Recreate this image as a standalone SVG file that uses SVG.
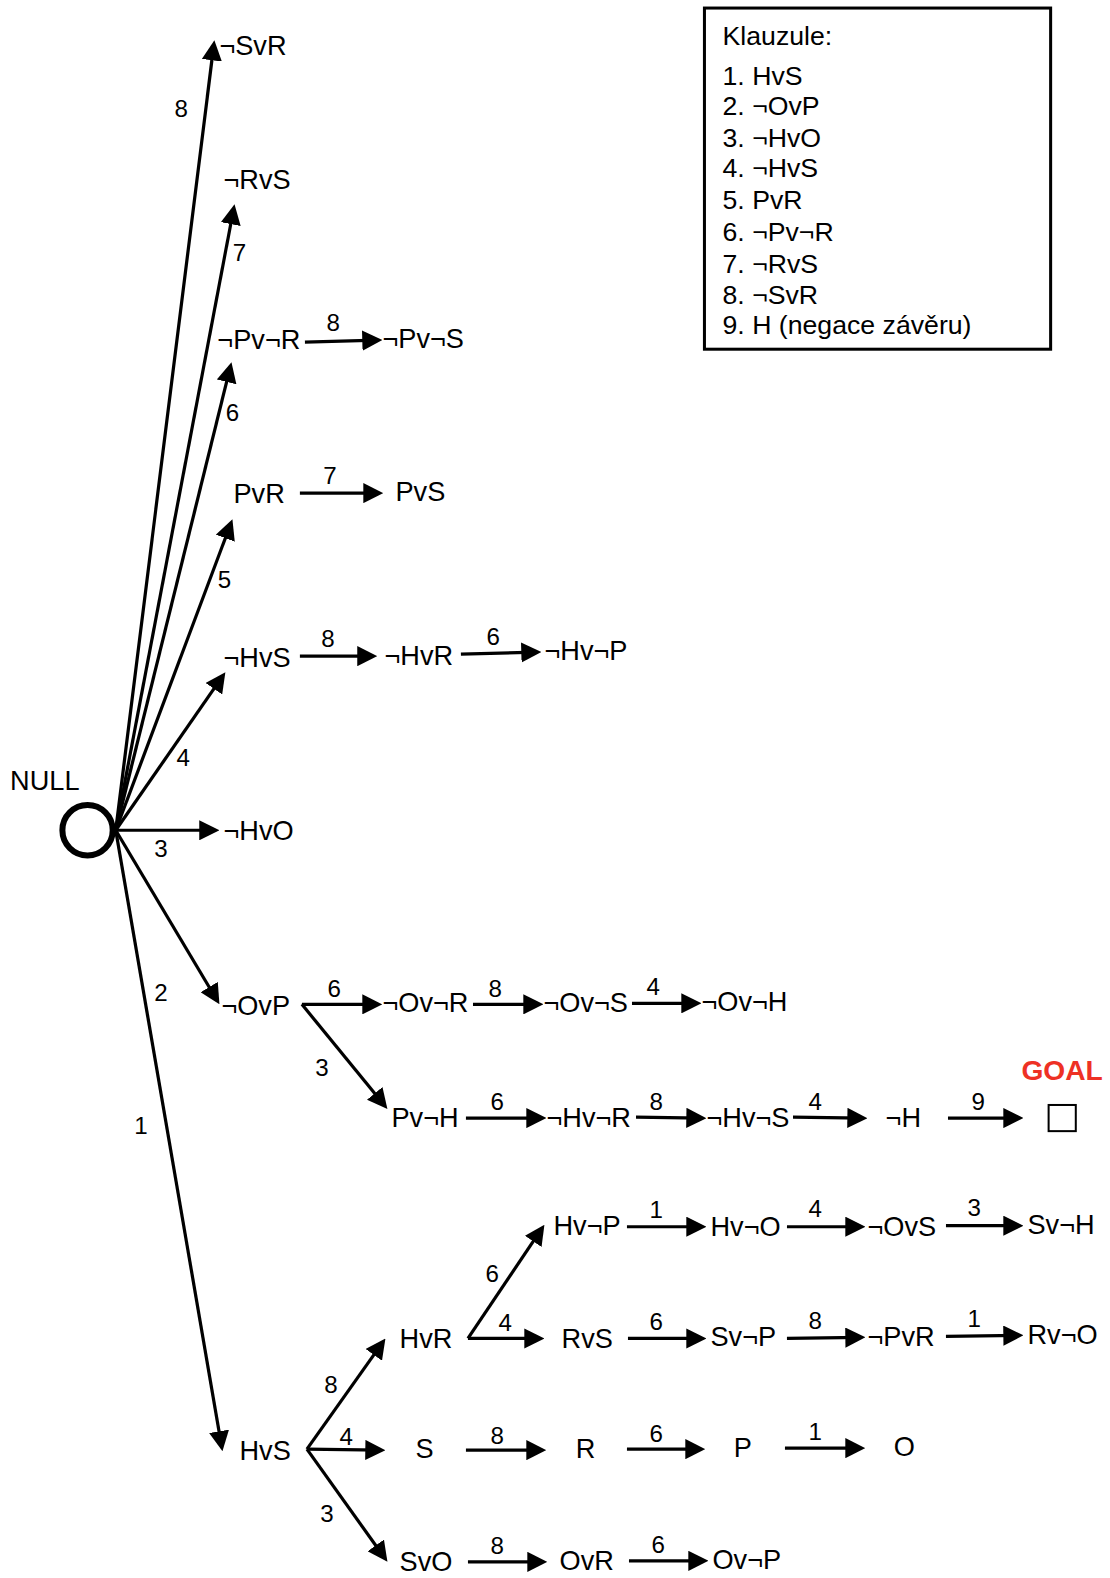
<svg xmlns="http://www.w3.org/2000/svg" width="1110" height="1578" viewBox="0 0 1110 1578">
<defs>
<marker id="ah" markerUnits="userSpaceOnUse" markerWidth="20" markerHeight="20" refX="15" refY="10" orient="auto">
<path d="M0,0 L20,10 L0,20 z" fill="#000"/>
</marker>
<style>
.n{font-family:"Liberation Sans",Arial,sans-serif;font-size:27px;fill:#000}
.e{font-family:"Liberation Sans",Arial,sans-serif;font-size:24px;fill:#000;text-anchor:middle}
.a{stroke:#000;stroke-width:3.2;fill:none;marker-end:url(#ah)}
.lg{font-family:"Liberation Sans",Arial,sans-serif;font-size:26.5px;fill:#000}
</style>
</defs>
<rect width="1110" height="1578" fill="#fff"/>
<g transform="scale(1.00635)">
<g id="connectors">
<line class="a" x1="115" y1="825" x2="212.4" y2="45"/>
<line class="a" x1="115" y1="825" x2="232.1" y2="207.9"/>
<line class="a" x1="115" y1="825" x2="228.8" y2="364.9"/>
<line class="a" x1="115" y1="825" x2="229.2" y2="520.7"/>
<line class="a" x1="115" y1="825" x2="221.1" y2="672.1"/>
<line class="a" x1="115" y1="825" x2="213" y2="825"/>
<line class="a" x1="115" y1="825" x2="215.5" y2="993.7"/>
<line class="a" x1="115" y1="825" x2="220.2" y2="1437.1"/>
<line class="a" x1="303" y1="340" x2="375" y2="338"/>
<line class="a" x1="298" y1="490" x2="376" y2="490"/>
<line class="a" x1="298" y1="652" x2="370" y2="652"/>
<line class="a" x1="458" y1="650" x2="533" y2="648"/>
<line class="a" x1="300" y1="998" x2="375" y2="998"/>
<line class="a" x1="470" y1="998" x2="535" y2="998"/>
<line class="a" x1="628" y1="997" x2="692" y2="997"/>
<line class="a" x1="300" y1="998" x2="381.8" y2="1098.1"/>
<line class="a" x1="463" y1="1111" x2="538" y2="1111"/>
<line class="a" x1="632" y1="1110" x2="697" y2="1111"/>
<line class="a" x1="788" y1="1110" x2="857" y2="1111"/>
<line class="a" x1="942" y1="1111" x2="1012" y2="1111"/>
<line class="a" x1="305" y1="1440" x2="380.1" y2="1334.1"/>
<line class="a" x1="305" y1="1440" x2="378" y2="1441"/>
<line class="a" x1="305" y1="1440" x2="382.1" y2="1547.9"/>
<line class="a" x1="465" y1="1330" x2="538.2" y2="1221.1"/>
<line class="a" x1="465" y1="1330" x2="536" y2="1330"/>
<line class="a" x1="623" y1="1219" x2="697" y2="1219"/>
<line class="a" x1="782" y1="1219" x2="855" y2="1219"/>
<line class="a" x1="940" y1="1218" x2="1012" y2="1218"/>
<line class="a" x1="624" y1="1330" x2="697" y2="1330"/>
<line class="a" x1="782" y1="1330" x2="855" y2="1329"/>
<line class="a" x1="940" y1="1328" x2="1012" y2="1327"/>
<line class="a" x1="463" y1="1441" x2="538" y2="1441"/>
<line class="a" x1="623" y1="1440" x2="696" y2="1440"/>
<line class="a" x1="780" y1="1439" x2="855" y2="1439"/>
<line class="a" x1="465" y1="1552" x2="539" y2="1552"/>
<line class="a" x1="625" y1="1551" x2="699" y2="1551"/>
<text class="e" x="180" y="116">8</text>
<text class="e" x="238" y="259">7</text>
<text class="e" x="231" y="418">6</text>
<text class="e" x="331" y="329">8</text>
<text class="e" x="223" y="584">5</text>
<text class="e" x="328" y="481">7</text>
<text class="e" x="182" y="761">4</text>
<text class="e" x="326" y="643">8</text>
<text class="e" x="490" y="641">6</text>
<text class="e" x="160" y="852">3</text>
<text class="e" x="160" y="995">2</text>
<text class="e" x="332" y="991">6</text>
<text class="e" x="492" y="991">8</text>
<text class="e" x="649" y="989">4</text>
<text class="e" x="320" y="1069">3</text>
<text class="e" x="494" y="1103">6</text>
<text class="e" x="652" y="1103">8</text>
<text class="e" x="810" y="1103">4</text>
<text class="e" x="972" y="1103">9</text>
<text class="e" x="140" y="1127">1</text>
<text class="e" x="329" y="1384">8</text>
<text class="e" x="344" y="1436">4</text>
<text class="e" x="325" y="1512">3</text>
<text class="e" x="489" y="1274">6</text>
<text class="e" x="502" y="1323">4</text>
<text class="e" x="652" y="1210">1</text>
<text class="e" x="810" y="1209">4</text>
<text class="e" x="968" y="1208">3</text>
<text class="e" x="652" y="1322">6</text>
<text class="e" x="810" y="1321">8</text>
<text class="e" x="968" y="1319">1</text>
<text class="e" x="494" y="1435">8</text>
<text class="e" x="652" y="1433">6</text>
<text class="e" x="810" y="1431">1</text>
<text class="e" x="494" y="1544">8</text>
<text class="e" x="654" y="1543">6</text>
</g>
<g id="null"><circle cx="87" cy="825" r="25" fill="none" stroke="#000" stroke-width="6"/><text class="n" x="10" y="785">NULL</text></g>
<g id="n-nSvR"><text class="n" x="218" y="55">¬SvR</text></g>
<g id="n-nRvS"><text class="n" x="222" y="188">¬RvS</text></g>
<g id="n-nPvnR"><text class="n" x="216" y="347">¬Pv¬R</text></g>
<g id="n-nPvnS"><text class="n" x="380" y="346">¬Pv¬S</text></g>
<g id="n-PvR"><text class="n" x="232" y="500">PvR</text></g>
<g id="n-PvS"><text class="n" x="393" y="498">PvS</text></g>
<g id="n-nHvS"><text class="n" x="222" y="663">¬HvS</text></g>
<g id="n-nHvR"><text class="n" x="382" y="661">¬HvR</text></g>
<g id="n-nHvnP"><text class="n" x="541" y="656">¬Hv¬P</text></g>
<g id="n-nHvO"><text class="n" x="222" y="835">¬HvO</text></g>
<g id="n-nOvP"><text class="n" x="220" y="1009">¬OvP</text></g>
<g id="n-nOvnR"><text class="n" x="380" y="1006">¬Ov¬R</text></g>
<g id="n-nOvnS"><text class="n" x="540" y="1006">¬Ov¬S</text></g>
<g id="n-nOvnH"><text class="n" x="697" y="1005">¬Ov¬H</text></g>
<g id="n-PvnH"><text class="n" x="389" y="1120">Pv¬H</text></g>
<g id="n-nHvnR"><text class="n" x="543" y="1120">¬Hv¬R</text></g>
<g id="n-nHvnS"><text class="n" x="702" y="1120">¬Hv¬S</text></g>
<g id="n-nH"><text class="n" x="880" y="1120">¬H</text></g>
<g id="n-goal"><rect x="1042" y="1098" width="27" height="26" fill="none" stroke="#000" stroke-width="2"/><text x="1015" y="1073" style="font-family:'Liberation Sans',Arial,sans-serif;font-size:28px;font-weight:bold;fill:#ee3124">GOAL</text></g>
<g id="n-HvS"><text class="n" x="238" y="1451">HvS</text></g>
<g id="n-HvR"><text class="n" x="397" y="1339">HvR</text></g>
<g id="n-S"><text class="n" x="413" y="1449">S</text></g>
<g id="n-SvO"><text class="n" x="397" y="1561">SvO</text></g>
<g id="n-HvnP"><text class="n" x="550" y="1227">Hv¬P</text></g>
<g id="n-RvS"><text class="n" x="558" y="1339">RvS</text></g>
<g id="n-HvnO"><text class="n" x="706" y="1228">Hv¬O</text></g>
<g id="n-nOvS"><text class="n" x="862" y="1228">¬OvS</text></g>
<g id="n-SvnH"><text class="n" x="1021" y="1226">Sv¬H</text></g>
<g id="n-SvnP"><text class="n" x="706" y="1338">Sv¬P</text></g>
<g id="n-nPvR"><text class="n" x="862" y="1338">¬PvR</text></g>
<g id="n-RvnO"><text class="n" x="1021" y="1336">Rv¬O</text></g>
<g id="n-R"><text class="n" x="572" y="1449">R</text></g>
<g id="n-P"><text class="n" x="729" y="1448">P</text></g>
<g id="n-O"><text class="n" x="888" y="1447">O</text></g>
<g id="n-OvR"><text class="n" x="556" y="1560">OvR</text></g>
<g id="n-OvnP"><text class="n" x="708" y="1559">Ov¬P</text></g>
<g id="legend">
<rect x="700" y="8" width="344" height="339" fill="none" stroke="#000" stroke-width="3"/>
<text class="lg" x="718" y="45">Klauzule:</text>
<text class="lg" x="718" y="84">1. HvS</text>
<text class="lg" x="718" y="114">2. ¬OvP</text>
<text class="lg" x="718" y="146">3. ¬HvO</text>
<text class="lg" x="718" y="176">4. ¬HvS</text>
<text class="lg" x="718" y="208">5. PvR</text>
<text class="lg" x="718" y="239">6. ¬Pv¬R</text>
<text class="lg" x="718" y="271">7. ¬RvS</text>
<text class="lg" x="718" y="302">8. ¬SvR</text>
<text class="lg" x="718" y="332">9. H (negace závěru)</text>
</g>
</g>
</svg>
